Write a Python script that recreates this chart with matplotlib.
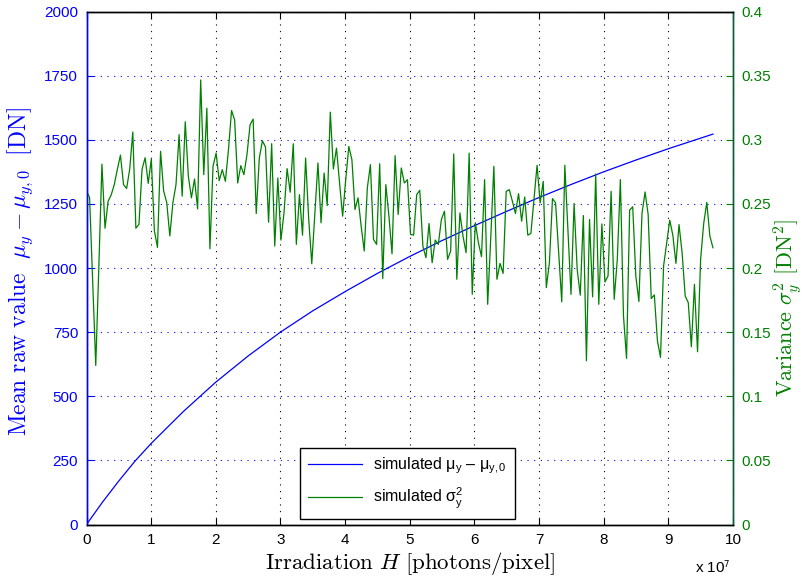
import numpy as np
import matplotlib
matplotlib.use("Agg")
import matplotlib.pyplot as plt

plt.rcParams['font.family'] = ['Liberation Sans', 'DejaVu Sans']
plt.rcParams['mathtext.fontset'] = 'cm'

# ---- data ----
x_start, x_end = 0.0, 9.69          # irradiation range (x 10^7 photons/pixel)
var_sim = [
    0.260, 0.255, 0.190, 0.124, 0.201, 0.281, 0.231, 0.252, 0.257, 0.265, 0.277, 0.288, 0.265, 0.262, 0.277, 0.306,
    0.231, 0.234, 0.277, 0.286, 0.266, 0.285, 0.229, 0.216, 0.291, 0.260, 0.251, 0.225, 0.251, 0.265, 0.304, 0.256, 0.314,
    0.2715, 0.2547, 0.2694, 0.2461, 0.3466, 0.2728, 0.3246, 0.215, 0.2793, 0.2896, 0.2681, 0.2767, 0.2676, 0.2922,
    0.3228, 0.3155, 0.2663, 0.2798, 0.2728, 0.2883, 0.3117, 0.3161, 0.2425, 0.2857, 0.2992, 0.2943, 0.2357, 0.2969,
    0.2171, 0.2702, 0.2218, 0.2430, 0.2775, 0.2591, 0.2969,
    0.2184, 0.2572, 0.2256, 0.2857, 0.2383, 0.2033, 0.243, 0.2819, 0.2352, 0.2741, 0.2487, 0.3215, 0.2772, 0.2935,
    0.2663, 0.2404, 0.269, 0.2948, 0.2845, 0.2456, 0.2547, 0.2326, 0.2132, 0.2624, 0.2806, 0.2223, 0.2184, 0.2813,
    0.1917, 0.2650, 0.2404, 0.2111, 0.2876, 0.2417, 0.2780,
    0.2663, 0.2689, 0.2262, 0.2256, 0.2572, 0.2606, 0.2171, 0.2080, 0.2347, 0.2041, 0.2218, 0.2184, 0.2378, 0.2443,
    0.2067, 0.2132, 0.2889, 0.1912, 0.2430, 0.2249, 0.2119, 0.2896, 0.1795, 0.2352, 0.2197, 0.2088, 0.2689, 0.1717,
    0.2236, 0.2793, 0.1912, 0.2036, 0.1958, 0.2598,
    0.2611, 0.2521, 0.2425, 0.2580, 0.2365, 0.2554, 0.2256, 0.2269, 0.2534, 0.2801, 0.2508, 0.2676, 0.1847, 0.2041,
    0.2541, 0.2508, 0.2119, 0.1736, 0.2801, 0.2301, 0.1795, 0.2503, 0.1990, 0.1788, 0.2409, 0.1277, 0.2378, 0.1775,
    0.2733, 0.1717, 0.2344, 0.1891, 0.1938, 0.2598, 0.1756,
    0.2067, 0.2689, 0.1627, 0.1295, 0.2451, 0.2477, 0.1938, 0.1738, 0.2425, 0.2593, 0.2417, 0.1762, 0.1790, 0.1433,
    0.1303, 0.2015, 0.2197, 0.2373, 0.2256, 0.2036, 0.2339, 0.2119, 0.1782, 0.1730, 0.1386, 0.1873, 0.1347, 0.2067,
    0.2347, 0.2512, 0.2249, 0.2158,
]
mean_x = [0, 0.25, 0.5, 0.75, 1, 1.5, 2, 2.5, 3, 3.5, 4, 4.5, 5, 5.5, 6, 6.5, 7, 7.5, 8, 8.5, 9, 9.69]
mean_sim = [0, 88, 170, 247, 316, 441, 555, 657, 750, 833, 908, 979, 1045, 1107, 1165, 1221, 1275, 1326,
            1375, 1421, 1465, 1522]

left_ticks = list(range(0, 2001, 250))
right_ticks = [0, 0.05, 0.1, 0.15, 0.2, 0.25, 0.3, 0.35, 0.4]
right_ticklabels = ['0', '0.05', '0.1', '0.15', '0.2', '0.25', '0.3', '0.35', '0.4']
x_ticks = list(range(0, 11))

var_x = np.linspace(x_start, x_end, len(var_sim))

BLUE = '#0000ff'
GREEN = '#008000'

fig = plt.figure(figsize=(8.08, 5.83), dpi=100)
W, H = 808, 583
ax1 = fig.add_axes([86.5 / W, 58.5 / H, 646.5 / W, 513 / H])
ax2 = ax1.twinx()

l1, = ax1.plot(mean_x, mean_sim, color=BLUE, lw=0.9)
l2, = ax2.plot(var_x, var_sim, color=GREEN, lw=0.9)

ax1.set_xlim(0, 10)
ax1.set_ylim(0, 2000)
ax2.set_ylim(0, 0.4)
ax1.set_xticks(x_ticks)
ax1.set_xticklabels([str(t) for t in x_ticks])
ax1.set_yticks(left_ticks)
ax1.set_yticklabels([str(t) for t in left_ticks])
ax2.set_yticks(right_ticks)
ax2.set_yticklabels(right_ticklabels)

dots = (0, (1, 5))
ax1.xaxis.grid(True, linestyle=dots, color='k', lw=0.8)
ax1.yaxis.grid(True, linestyle=dots, color=BLUE, lw=0.8)
ax1.set_axisbelow(True)

ax1.tick_params(axis='x', direction='in', length=5, labelsize=11, colors='k', top=True, pad=6)
ax1.tick_params(axis='y', direction='in', length=5, labelsize=11, colors=BLUE, pad=6)
ax2.tick_params(axis='y', direction='in', length=5, labelsize=11, colors=GREEN, pad=6)

for ax in (ax1, ax2):
    ax.spines['left'].set_color(BLUE)
    ax.spines['right'].set_color('#0a5a3c')
    ax.spines['top'].set_color('k')
    ax.spines['bottom'].set_color('k')
    for s in ax.spines.values():
        s.set_linewidth(1.0)

ax1.set_ylabel(r'$\mathrm{Mean\ raw\ value}\ \ \mu_y - \mu_{y,0}\ \ [\mathrm{DN}]$', color=BLUE, fontsize=17,
               va='center', ha='center')
ax1.yaxis.set_label_coords((20 - 86.5) / 646.5, (524.5 - 272) / 513)
ax2.set_ylabel(r'$\mathrm{Variance}\ \sigma_y^2\ [\mathrm{DN}^2]$', color=GREEN, fontsize=16, rotation=90,
               va='center', ha='center')
ax2.yaxis.set_label_coords((788 - 86.5) / 646.5, (524.5 - 308) / 513)
ax1.set_xlabel(r'$\mathrm{Irradiation}\ H\ [\mathrm{photons/pixel}]$', color='k', fontsize=16.5, labelpad=2)

leg = ax2.legend([l1, l2], [r'simulated $\mathregular{\mu_y}$ – $\mathregular{\mu_{y,0}}$',
                            r'simulated $\mathregular{\sigma_y^2}$'],
                 loc='lower center', bbox_to_anchor=(0.4965, 0.011), borderaxespad=0, fontsize=11.5,
                 fancybox=False, framealpha=1, edgecolor='k', handlelength=3.4,
                 borderpad=0.5, labelspacing=0.6, handletextpad=0.7)
leg.get_frame().set_linewidth(1.0)
for t in leg.get_texts():
    t.set_math_fontfamily('stixsans')

fig.text(695 / W, 10 / H, r'x 10$^{7}$', fontsize=11, va='baseline', ha='left', math_fontfamily='stixsans')

fig.savefig('out.png', dpi=100)
